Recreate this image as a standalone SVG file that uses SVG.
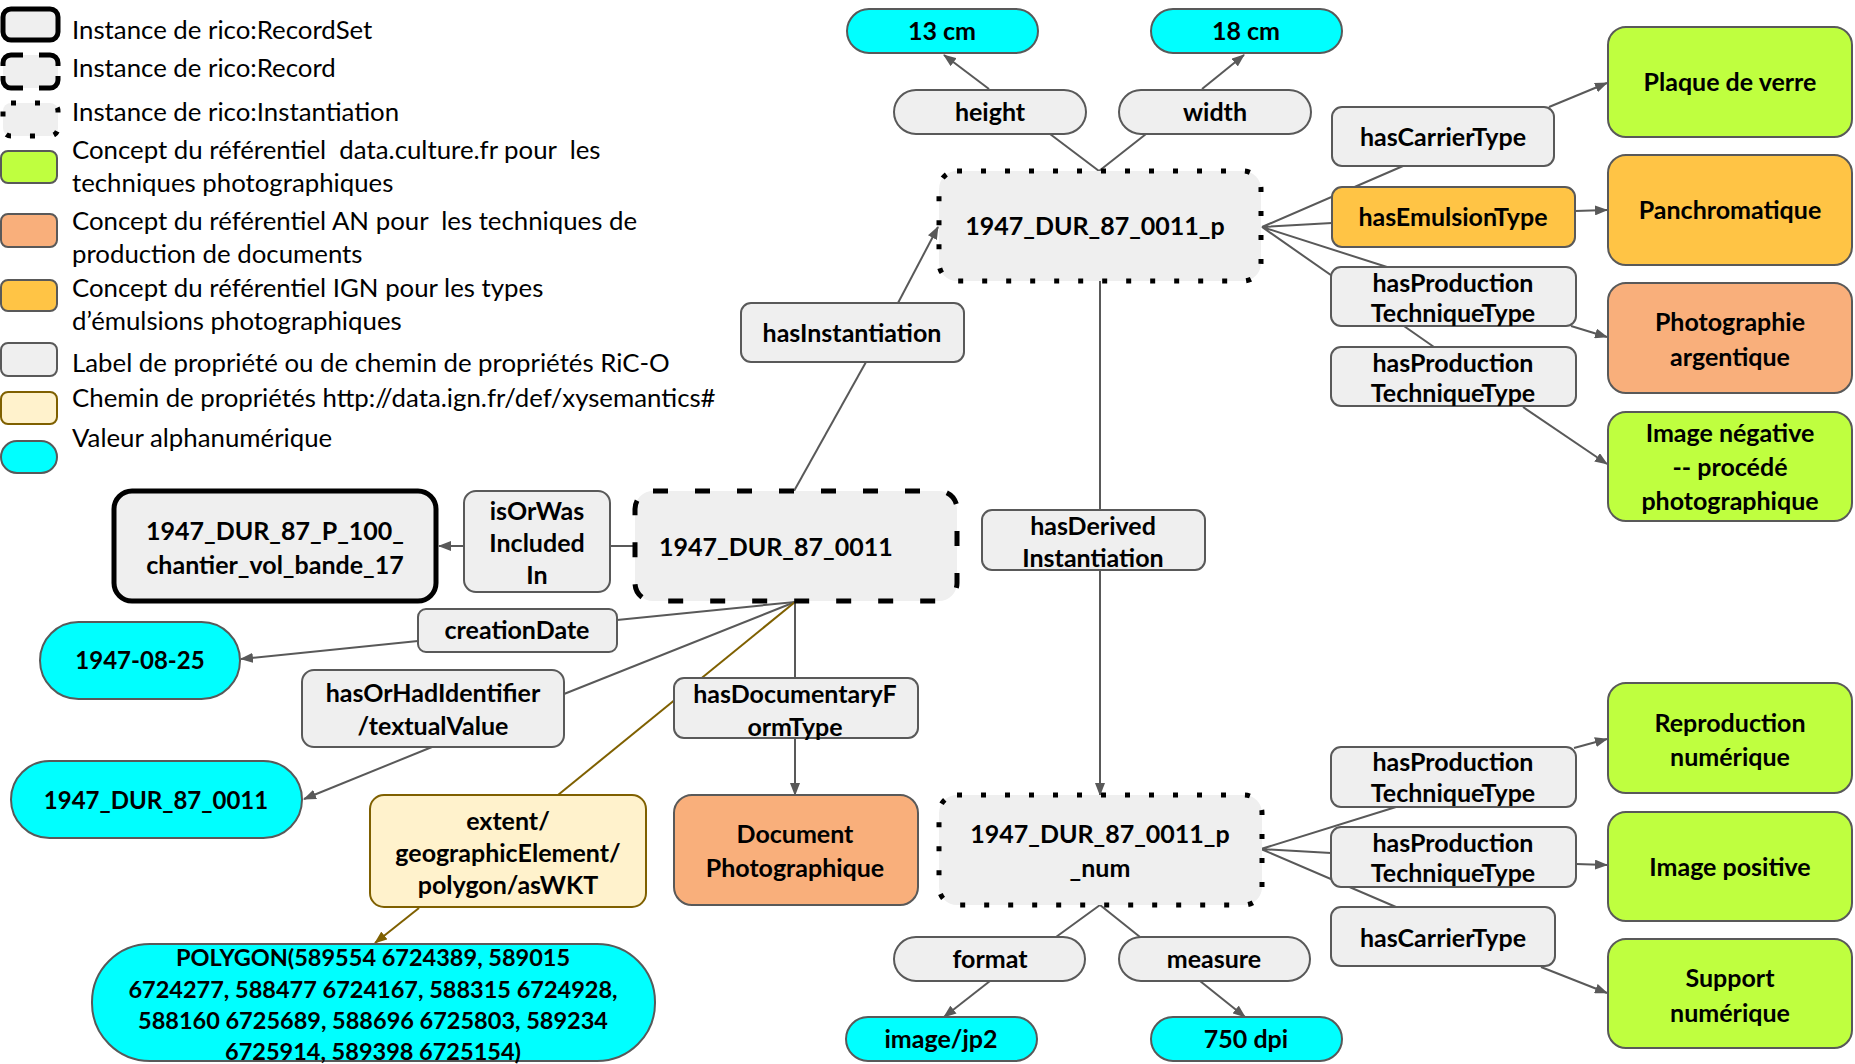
<svg xmlns="http://www.w3.org/2000/svg" width="1855" height="1064" viewBox="0 0 1855 1064">
<style>
.lbl{fill:#EFEFEF;stroke:#595959;stroke-width:2}
.cyan{fill:#00FFFF;stroke:#595959;stroke-width:2}
.green{fill:#BFFF3F;stroke:#595959;stroke-width:2}
.orange{fill:#FFC445;stroke:#595959;stroke-width:2}
.salmon{fill:#F9AF7B;stroke:#595959;stroke-width:2}
.beige{fill:#FFF2CC;stroke:#7F6000;stroke-width:2}
.rs{fill:#EFEFEF;stroke:#000;stroke-width:5}
.rec{fill:#EFEFEF;stroke:#000;stroke-width:5;stroke-dasharray:15 27}
.inst{fill:#EFEFEF;stroke:#000;stroke-width:5;stroke-dasharray:5 19}
.t{font-family:Lato,"Open Sans",sans-serif;font-weight:bold;font-size:25px;text-anchor:middle;fill:#000}
.num{font-size:24px}
.poly{font-size:23.5px}
.leg{font-family:Lato,"Open Sans",sans-serif;font-size:25.8px;fill:#000}
.c{stroke:#595959;stroke-width:2;fill:none}
.cb{stroke:#7F6000;stroke-width:2;fill:none}
.a{marker-end:url(#arr)}
.ab{marker-end:url(#arrb)}
</style>
<defs>
<marker id="arr" markerUnits="userSpaceOnUse" markerWidth="13" markerHeight="10" refX="12" refY="5" orient="auto"><path d="M0,0 L13,5 L0,10 z" fill="#595959"/></marker>
<marker id="arrb" markerUnits="userSpaceOnUse" markerWidth="13" markerHeight="10" refX="12" refY="5" orient="auto"><path d="M0,0 L13,5 L0,10 z" fill="#7F6000"/></marker>
</defs>

<g id="legend">
<rect class="rs" x="3" y="9" width="55" height="31" rx="8"/>
<rect x="3" y="55" width="55" height="33" rx="8" fill="#EFEFEF"/>
<path d="M3,66 V63 A8,8 0 0 1 11,55 H23 M39,55 H50 A8,8 0 0 1 58,63 V66 M58,76 V80 A8,8 0 0 1 50,88 H39 M23,88 H11 A8,8 0 0 1 3,80 V76" fill="none" stroke="#000" stroke-width="5"/>
<rect class="inst" x="3" y="103" width="55" height="33" rx="8"/>
<rect class="green" x="1" y="151" width="56" height="32" rx="7"/>
<rect class="salmon" x="1" y="214" width="56" height="33" rx="7"/>
<rect class="orange" x="1" y="280" width="56" height="31" rx="7"/>
<rect class="lbl" x="1" y="343" width="56" height="33" rx="7"/>
<rect class="beige" x="1" y="392" width="56" height="32" rx="7"/>
<rect class="cyan" x="1" y="441" width="56" height="32" rx="16"/>
<text class="leg" x="72" y="39">Instance de rico:RecordSet</text>
<text class="leg" x="72" y="77">Instance de rico:Record</text>
<text class="leg" x="72" y="121">Instance de rico:Instantiation</text>
<text class="leg" x="72" y="159" xml:space="preserve">Concept du référentiel  data.culture.fr pour  les</text>
<text class="leg" x="72" y="192">techniques photographiques</text>
<text class="leg" x="72" y="230" xml:space="preserve">Concept du référentiel AN pour  les techniques de</text>
<text class="leg" x="72" y="263">production de documents</text>
<text class="leg" x="72" y="297">Concept du référentiel IGN pour les types</text>
<text class="leg" x="72" y="330">d’émulsions photographiques</text>
<text class="leg" x="72" y="372">Label de propriété ou de chemin de propriétés RiC-O</text>
<text class="leg" x="72" y="407">Chemin de propriétés http://data.ign.fr/def/xysemantics#</text>
<text class="leg" x="72" y="447">Valeur alphanumérique</text>
</g>

<g id="connectors">
<path class="c a" d="M989,89 L944,55"/>
<path class="c a" d="M1202,89 L1244,55"/>
<path class="c" d="M1099,171 L1050,134 M1099,171 L1146,134"/>
<path class="c" d="M794,491 L866,362"/>
<path class="c a" d="M898,303 L938,227"/>
<path class="c" d="M1100,281 L1100,510"/>
<path class="c a" d="M1100,570 L1100,795"/>
<path class="c" d="M635,546 L610,546"/>
<path class="c a" d="M464,546 L439,546"/>
<path class="c" d="M795,602 L617,620"/>
<path class="c a" d="M418,641 L241,659"/>
<path class="c" d="M795,602 L564,694"/>
<path class="c a" d="M432,747 L304,799"/>
<path class="cb" d="M795,602 L558,795"/>
<path class="cb ab" d="M419,908 L375,943"/>
<path class="c" d="M795,602 L795,678"/>
<path class="c a" d="M795,738 L795,795"/>
<path class="c" d="M1100,905 L1056,937 M1100,905 L1140,937"/>
<path class="c a" d="M990,981 L944,1017"/>
<path class="c a" d="M1200,981 L1245,1017"/>
<path class="c" d="M1262,227 L1403,166 M1262,227 L1332,223 M1262,227 L1387,267 M1262,227 L1434,347"/>
<path class="c a" d="M1549,107 L1607,83"/>
<path class="c a" d="M1575,211 L1607,210"/>
<path class="c a" d="M1571,326 L1607,337"/>
<path class="c a" d="M1523,407 L1607,464"/>
<path class="c" d="M1261,849 L1396,807 M1261,849 L1331,853 M1261,849 L1396,907"/>
<path class="c a" d="M1574,748 L1607,739"/>
<path class="c a" d="M1576,864 L1607,865"/>
<path class="c a" d="M1541,967 L1607,993"/>
</g>

<g id="n13cm"><rect class="cyan" x="847" y="9" width="191" height="44" rx="22"/><text class="t" x="942" y="40">13 cm</text></g>
<g id="n18cm"><rect class="cyan" x="1151" y="9" width="191" height="44" rx="22"/><text class="t" x="1246" y="40">18 cm</text></g>
<g id="height"><rect class="lbl" x="894" y="90" width="192" height="44" rx="22"/><text class="t" x="990" y="121">height</text></g>
<g id="width"><rect class="lbl" x="1119" y="90" width="192" height="44" rx="22"/><text class="t" x="1215" y="121">width</text></g>
<g id="inst1"><rect class="inst" x="939" y="171" width="322" height="110" rx="18"/><text class="t" x="1095" y="235">1947_DUR_87_0011_p</text></g>
<g id="hasInstantiation"><rect class="lbl" x="741" y="303" width="223" height="59" rx="10"/><text class="t" x="852" y="342">hasInstantiation</text></g>
<g id="record"><rect class="rec" x="635" y="491" width="322" height="110" rx="18"/><text class="t" x="659" y="556" style="text-anchor:start">1947_DUR_87_0011</text></g>
<g id="recordset"><rect class="rs" x="114" y="491" width="322" height="110" rx="18"/><text class="t" x="275" y="540">1947_DUR_87_P_100_</text><text class="t" x="275" y="574">chantier_vol_bande_17</text></g>
<g id="isOrWasIncludedIn"><rect class="lbl" x="464" y="491" width="146" height="101" rx="12"/><text class="t" x="537" y="520">isOrWas</text><text class="t" x="537" y="552">Included</text><text class="t" x="537" y="584">In</text></g>
<g id="creationDate"><rect class="lbl" x="418" y="609" width="199" height="43" rx="8"/><text class="t" x="517" y="639">creationDate</text></g>
<g id="date"><rect class="cyan" x="40" y="622" width="200" height="77" rx="38.5"/><text class="t num" x="140" y="669">1947-08-25</text></g>
<g id="hasOrHadIdentifier"><rect class="lbl" x="302" y="670" width="262" height="77" rx="12"/><text class="t" x="433" y="702">hasOrHadIdentifier</text><text class="t" x="433" y="735">/textualValue</text></g>
<g id="identifier"><rect class="cyan" x="11" y="761" width="291" height="77" rx="38.5"/><text class="t num" x="156" y="809">1947_DUR_87_0011</text></g>
<g id="extent"><rect class="beige" x="370" y="795" width="276" height="112" rx="14"/><text class="t" x="508" y="830">extent/</text><text class="t" x="508" y="862">geographicElement/</text><text class="t" x="508" y="894">polygon/asWKT</text></g>
<g id="polygon"><rect class="cyan" x="92" y="944" width="563" height="117" rx="58"/><text class="t poly" x="373" y="966">POLYGON(589554 6724389, 589015</text><text class="t poly" x="373" y="998">6724277, 588477 6724167, 588315 6724928,</text><text class="t poly" x="373" y="1029">588160 6725689, 588696 6725803, 589234</text><text class="t poly" x="373" y="1060">6725914, 589398 6725154)</text></g>
<g id="hasDocumentaryFormType"><rect class="lbl" x="674" y="678" width="244" height="60" rx="10"/><text class="t" x="795" y="703">hasDocumentaryF</text><text class="t" x="795" y="736">ormType</text></g>
<g id="docphoto"><rect class="salmon" x="674" y="795" width="244" height="110" rx="18"/><text class="t" x="795" y="843">Document</text><text class="t" x="795" y="877">Photographique</text></g>
<g id="hasDerivedInstantiation"><rect class="lbl" x="982" y="510" width="223" height="60" rx="10"/><text class="t" x="1093" y="535">hasDerived</text><text class="t" x="1093" y="567">Instantiation</text></g>
<g id="inst2"><rect class="inst" x="939" y="795" width="323" height="110" rx="18"/><text class="t" x="1100" y="843">1947_DUR_87_0011_p</text><text class="t" x="1100" y="877">_num</text></g>
<g id="format"><rect class="lbl" x="894" y="937" width="191" height="44" rx="22"/><text class="t" x="990" y="968">format</text></g>
<g id="measure"><rect class="lbl" x="1119" y="937" width="191" height="44" rx="22"/><text class="t" x="1214" y="968">measure</text></g>
<g id="imagejp2"><rect class="cyan" x="846" y="1017" width="191" height="44" rx="22"/><text class="t" x="941" y="1048">image/jp2</text></g>
<g id="dpi"><rect class="cyan" x="1151" y="1017" width="191" height="44" rx="22"/><text class="t" x="1246" y="1048">750 dpi</text></g>
<g id="hasCarrierType1"><rect class="lbl" x="1332" y="107" width="222" height="59" rx="10"/><text class="t" x="1443" y="146">hasCarrierType</text></g>
<g id="hasEmulsionType"><rect class="orange" x="1332" y="187" width="243" height="60" rx="10"/><text class="t" x="1453" y="226">hasEmulsionType</text></g>
<g id="hasProd1"><rect class="lbl" x="1331" y="267" width="245" height="59" rx="10"/><text class="t" x="1453" y="292">hasProduction</text><text class="t" x="1453" y="322">TechniqueType</text></g>
<g id="hasProd2"><rect class="lbl" x="1331" y="347" width="245" height="59" rx="10"/><text class="t" x="1453" y="372">hasProduction</text><text class="t" x="1453" y="402">TechniqueType</text></g>
<g id="plaque"><rect class="green" x="1608" y="27" width="244" height="110" rx="18"/><text class="t" x="1730" y="91">Plaque de verre</text></g>
<g id="panchro"><rect class="orange" x="1608" y="155" width="244" height="110" rx="18"/><text class="t" x="1730" y="219">Panchromatique</text></g>
<g id="argentique"><rect class="salmon" x="1608" y="283" width="244" height="110" rx="18"/><text class="t" x="1730" y="331">Photographie</text><text class="t" x="1730" y="366">argentique</text></g>
<g id="negative"><rect class="green" x="1608" y="412" width="244" height="109" rx="18"/><text class="t" x="1730" y="442">Image négative</text><text class="t" x="1730" y="476">-- procédé</text><text class="t" x="1730" y="510">photographique</text></g>
<g id="hasProd3"><rect class="lbl" x="1331" y="747" width="245" height="60" rx="10"/><text class="t" x="1453" y="771">hasProduction</text><text class="t" x="1453" y="802">TechniqueType</text></g>
<g id="hasProd4"><rect class="lbl" x="1331" y="827" width="245" height="60" rx="10"/><text class="t" x="1453" y="852">hasProduction</text><text class="t" x="1453" y="882">TechniqueType</text></g>
<g id="hasCarrierType2"><rect class="lbl" x="1331" y="907" width="224" height="59" rx="10"/><text class="t" x="1443" y="947">hasCarrierType</text></g>
<g id="reproduction"><rect class="green" x="1608" y="683" width="244" height="110" rx="18"/><text class="t" x="1730" y="732">Reproduction</text><text class="t" x="1730" y="766">numérique</text></g>
<g id="positive"><rect class="green" x="1608" y="812" width="244" height="109" rx="18"/><text class="t" x="1730" y="876">Image positive</text></g>
<g id="support"><rect class="green" x="1608" y="939" width="244" height="109" rx="18"/><text class="t" x="1730" y="987">Support</text><text class="t" x="1730" y="1022">numérique</text></g>
</svg>
